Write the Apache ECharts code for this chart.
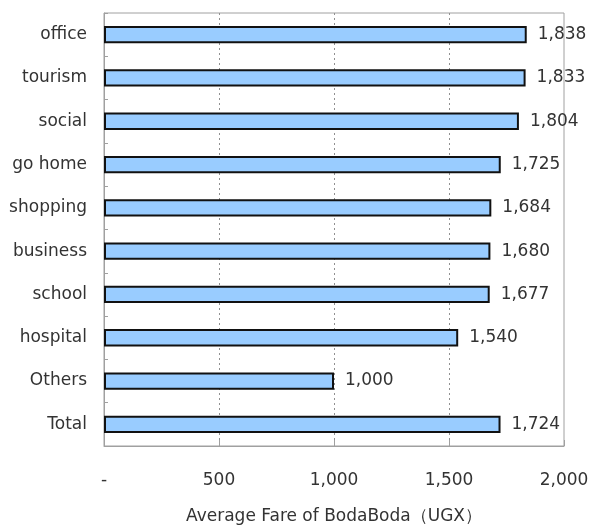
<!DOCTYPE html>
<html>
<head>
<meta charset="utf-8">
<script src="https://cdn.jsdelivr.net/npm/echarts@6/dist/echarts.min.js"></script>
<style>
  html, body { margin: 0; padding: 0; background: #fff; }
  #chart { width: 592px; height: 525px; }
</style>
</head>
<body>
<div id="chart"></div>
<script>
// Trip purposes, top to bottom
const purposes = ['office', 'tourism', 'social', 'go home', 'shopping', 'business', 'school', 'hospital', 'Others', 'Total'];
// Average fare per trip purpose (UGX)
const fares = [1838, 1833, 1804, 1725, 1684, 1680, 1677, 1540, 1000, 1724];
// Fare axis ticks
const fareTicks = [0, 500, 1000, 1500, 2000];
const axisTitle = 'Average Fare of BodaBoda（UGX）';

const fmt = v => v === 0 ? '-' : v.toLocaleString('en-US');
const font = '"DejaVu Sans", Verdana, sans-serif';
const textColor = '#333333';

const chart = echarts.init(document.getElementById('chart'), null, { renderer: 'canvas' });
chart.setOption({
  animation: false,
  backgroundColor: '#ffffff',
  grid: {
    left: 104, right: 28, top: 13, bottom: 79,
    outerBoundsMode: 'none',
    containLabel: false,
    show: true, borderColor: '#a0a0a0', borderWidth: 1, backgroundColor: 'transparent'
  },
  xAxis: {
    type: 'value',
    min: fareTicks[0],
    max: fareTicks[fareTicks.length - 1],
    interval: fareTicks[1] - fareTicks[0],
    name: axisTitle,
    nameLocation: 'middle',
    nameGap: 62,
    nameTextStyle: { color: textColor, fontSize: 17, fontFamily: font },
    axisLine: { show: true, lineStyle: { color: '#a0a0a0', width: 1 } },
    axisTick: { show: true, inside: true, length: 6, lineStyle: { color: '#a0a0a0' } },
    axisLabel: {
      color: textColor, fontSize: 17, fontFamily: font, margin: 26,
      formatter: fmt
    },
    splitLine: {
      show: true, showMinLine: false, showMaxLine: false,
      lineStyle: { color: '#909090', type: [2, 3], width: 1 }
    }
  },
  yAxis: {
    type: 'category',
    data: purposes,
    inverse: true,
    axisLine: { show: true, lineStyle: { color: '#a0a0a0', width: 1 } },
    axisTick: { show: true, inside: true, length: 4, lineStyle: { color: '#a0a0a0' } },
    axisLabel: { color: textColor, fontSize: 17, fontFamily: font, margin: 17 },
    splitLine: { show: false }
  },
  series: [{
    type: 'bar',
    data: fares,
    barWidth: '40%',
    itemStyle: { color: '#99ccff', borderColor: '#111', borderWidth: 2 },
    label: {
      show: true,
      position: 'right',
      distance: 11,
      color: textColor,
      fontSize: 17,
      fontFamily: font,
      formatter: p => fmt(p.value)
    }
  }]
});
</script>
</body>
</html>
